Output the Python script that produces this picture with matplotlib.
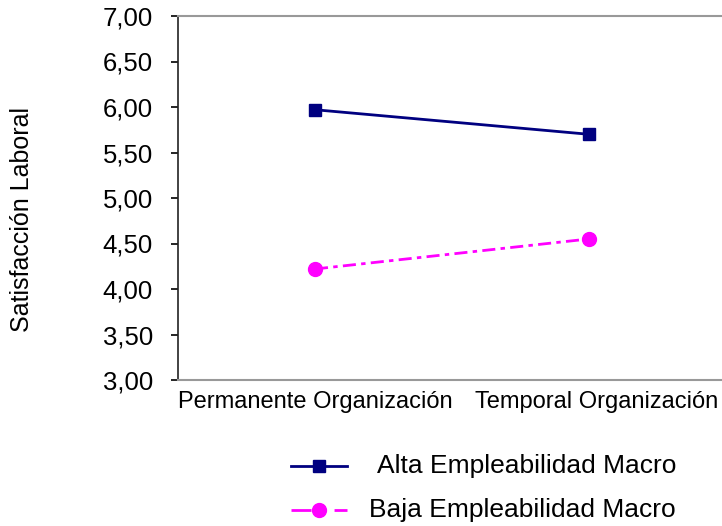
import matplotlib.pyplot as plt
import matplotlib.transforms as mtransforms
from matplotlib.lines import Line2D
from matplotlib.ticker import FuncFormatter

plt.rcParams['font.family'] = ['Liberation Sans', 'DejaVu Sans']

categorias = ['Permanente Organización', 'Temporal Organización']
alta = [5.97, 5.70]
baja = [4.22, 4.55]
series = ['Alta Empleabilidad Macro', 'Baja Empleabilidad Macro']

azul = '#000080'
rosa = '#ff00ff'
patron = (0, (4.7, 1.9, 1.6, 1.9))

fig = plt.figure(figsize=(7.22, 5.26), dpi=100)
ax = fig.add_axes([178 / 722, 1 - 380 / 526, 548 / 722, 364 / 526])

x = [0.5, 1.5]
ax.plot(x, alta, color=azul, lw=2, marker='s', ms=8.5, clip_on=False)
ax.plot(x, baja, color=rosa, lw=2, ls=patron, marker='o', ms=10, clip_on=False)

ax.set_xlim(0, 2)
ax.set_ylim(3, 7)
ax.set_yticks([3 + 0.5 * i for i in range(9)])
ax.yaxis.set_major_formatter(FuncFormatter(lambda v, p: f'{v:.2f}'.replace('.', ',')))
ax.set_xticks(x)
ax.set_xticklabels(categorias)
ax.tick_params(axis='x', length=0, pad=8, labelsize=17)
ax.tick_params(axis='y', direction='out', length=5, width=1.2, pad=13, labelsize=18.5)

# la segunda etiqueta queda un poco corrida a la derecha
etiqueta = ax.get_xticklabels()[1]
etiqueta.set_transform(etiqueta.get_transform() +
                       mtransforms.ScaledTranslation(0.08, 0, fig.dpi_scale_trans))

for lado in ['top', 'bottom']:
    ax.spines[lado].set_color('#999999')
    ax.spines[lado].set_linewidth(1.5)
ax.spines['left'].set_color('#222222')
ax.spines['left'].set_linewidth(1.2)
ax.spines['right'].set_visible(False)

fig.text(22 / 722, 1 - 220 / 526, 'Satisfacción Laboral', rotation=90,
         ha='center', va='center', fontsize=18)

# leyenda dibujada a mano con el texto alineado a la derecha
estilos = [dict(color=azul, ls='-', marker='s', ms=8.5),
           dict(color=rosa, ls=(0, (7.2, 8.3)), marker='o', ms=10)]
filas = [466, 510]
for nombre, est, fy in zip(series, estilos, filas):
    yy = 1 - fy / 526
    fig.add_artist(Line2D([291 / 722, 347 / 722], [yy, yy], lw=2,
                          color=est['color'], ls=est['ls'], transform=fig.transFigure))
    fig.add_artist(Line2D([319 / 722], [yy], color=est['color'], marker=est['marker'],
                          ms=est['ms'], transform=fig.transFigure))
    fig.text(676 / 722, yy, nombre, ha='right', va='center', fontsize=19)

fig.savefig('out.png', dpi=100)
